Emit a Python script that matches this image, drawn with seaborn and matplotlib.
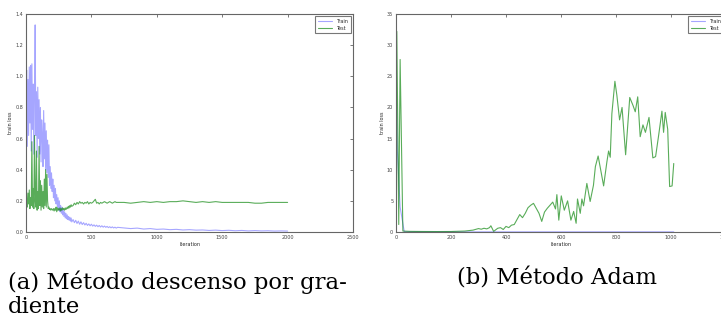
import matplotlib
matplotlib.use('Agg')
import matplotlib.pyplot as plt
import numpy as np
import pandas as pd
import seaborn as sns

# --- gradient descent run (left panel) ---
gd_iter = np.concatenate([np.arange(0, 351, 5), np.arange(360, 701, 10), np.arange(750, 2001, 50)])

gd_train = [
    0.72, 1.04, 0.55, 0.98, 0.62, 1.06, 0.70, 1.07, 0.52, 1.08,
    0.66, 0.95, 0.50, 0.88, 1.33, 0.62, 0.90, 0.48, 0.93, 0.60,
    0.85, 0.50, 0.80, 0.45, 0.72, 0.62, 0.42, 0.78, 0.47, 0.70,
    0.40, 0.65, 0.38, 0.59, 0.35, 0.56, 0.30, 0.42, 0.28, 0.38,
    0.26, 0.34, 0.22, 0.30, 0.20, 0.28, 0.18, 0.24, 0.16, 0.22,
    0.14, 0.20, 0.13, 0.17, 0.12, 0.16, 0.11, 0.14, 0.10, 0.13,
    0.09, 0.12, 0.085, 0.11, 0.08, 0.10, 0.075, 0.095, 0.07, 0.09,
    0.065,
    0.08, 0.06, 0.075, 0.055, 0.07, 0.05, 0.065, 0.048, 0.06, 0.045,
    0.056, 0.042, 0.052, 0.04, 0.05, 0.038, 0.046, 0.036, 0.044, 0.034,
    0.042, 0.032, 0.04, 0.031, 0.038, 0.03, 0.036, 0.028, 0.034, 0.027,
    0.033, 0.026, 0.031, 0.025, 0.03,
    0.026, 0.022, 0.025, 0.019, 0.022, 0.017, 0.019, 0.015, 0.017, 0.013,
    0.015, 0.012, 0.013, 0.010, 0.012, 0.009, 0.011, 0.008, 0.010, 0.007,
    0.009, 0.007, 0.008, 0.006, 0.007, 0.006,
]

gd_test = [
    0.60, 0.17, 0.16, 0.25, 0.18, 0.27, 0.15, 0.22, 0.17, 0.58,
    0.16, 0.28, 0.15, 0.62, 0.20, 0.16, 0.52, 0.14, 0.26, 0.15,
    0.55, 0.17, 0.33, 0.14, 0.30, 0.16, 0.26, 0.15, 0.34, 0.17,
    0.40, 0.16, 0.37, 0.20, 0.15, 0.16, 0.145, 0.15, 0.14, 0.15,
    0.145, 0.14, 0.15, 0.135, 0.15, 0.14, 0.16, 0.13, 0.155, 0.14,
    0.15, 0.14, 0.155, 0.135, 0.15, 0.14, 0.155, 0.145, 0.15, 0.14,
    0.155, 0.145, 0.15, 0.16, 0.15, 0.165, 0.155, 0.17, 0.16, 0.175,
    0.165,
    0.17, 0.185, 0.175, 0.19, 0.18, 0.195, 0.185, 0.19, 0.18, 0.19,
    0.185, 0.195, 0.18, 0.19, 0.185, 0.19, 0.20, 0.21, 0.185, 0.19,
    0.18, 0.19, 0.185, 0.19, 0.195, 0.19, 0.185, 0.19, 0.195, 0.19,
    0.185, 0.19, 0.195, 0.19, 0.19,
    0.19, 0.185, 0.19, 0.195, 0.19, 0.195, 0.19, 0.195, 0.195, 0.20,
    0.195, 0.19, 0.195, 0.19, 0.195, 0.19, 0.19, 0.19, 0.19, 0.19,
    0.185, 0.185, 0.19, 0.19, 0.19, 0.19,
]

# --- Adam run (right panel) ---
adam_train_iter = [0, 5, 15, 30, 100, 200, 400, 600, 800, 1000, 1010]
adam_train = [26.0, 13.0, 4.0, 0.05, 0.03, 0.02, 0.02, 0.02, 0.02, 0.02, 0.02]

adam_test_iter = [
    3, 10, 15, 25, 50, 100, 150, 200, 250, 280,
    300, 310, 320, 330, 340, 345, 355, 370, 380, 390,
    400, 410, 420, 430, 440, 450, 460, 470, 480, 490,
    500, 510, 520, 530, 540, 550, 560, 570, 580, 585,
    592, 601, 612, 624, 636, 646, 655, 660, 670, 676,
    682, 694, 706, 718, 725, 735, 743, 755, 767, 773,
    779, 785, 796, 803, 813, 822, 835, 850, 862, 870,
    879, 888, 898, 907, 920, 934, 944, 955, 967, 973,
    979, 988, 995, 1004, 1010,
]
adam_test = [
    32.2, 1.2, 27.7, 0.15, 0.1, 0.08, 0.07, 0.08, 0.15, 0.3,
    0.55, 0.45, 0.6, 0.5, 0.7, 1.0, 0.1, 0.6, 0.7, 0.4,
    0.9, 0.7, 1.1, 1.2, 2.0, 2.8, 2.3, 3.0, 3.9, 4.3,
    4.6, 3.8, 3.0, 1.7, 3.2, 3.8, 4.3, 4.8, 3.7, 6.0,
    1.9, 5.8, 3.5, 5.0, 1.9, 3.3, 1.4, 5.3, 3.0, 5.3,
    4.2, 7.8, 4.9, 7.5, 10.5, 12.2, 10.3, 7.4, 11.3, 13.0,
    12.0, 19.0, 24.2, 22.0, 18.0, 20.0, 12.4, 21.6, 20.3, 19.3,
    21.7, 15.3, 17.2, 16.0, 18.4, 11.9, 12.1, 15.5, 19.4, 16.0,
    19.2, 16.5, 7.3, 7.4, 11.0,
]

sns.set_style("white")
plt.rcParams['font.family'] = ['DejaVu Sans']

train_col = '#0000ff'
test_col = '#008000'
small = 3.5


def style_axes(ax, xlim, ylim, xstep, ystep, yfmt):
    ax.set_xlim(*xlim)
    ax.set_ylim(*ylim)
    ax.set_xticks(np.arange(xlim[0], xlim[1] + 1e-9, xstep))
    yt = np.arange(ylim[0], ylim[1] + 1e-9, ystep)
    ax.set_yticks(yt)
    ax.set_yticklabels([yfmt.format(v) for v in yt])
    ax.tick_params(direction='in', length=2.5, width=0.5, labelsize=small,
                   top=True, right=True, pad=2, colors='#444444')
    for s in ax.spines.values():
        s.set_color('#666666')
        s.set_linewidth(0.8)
    ax.set_xlabel('iteration', fontsize=small, labelpad=1.5)
    ax.set_ylabel('train loss', fontsize=small, labelpad=1.5)
    leg = ax.legend(loc='upper right', fontsize=small, frameon=True, fancybox=False,
                    handlelength=3.0, borderpad=0.5, labelspacing=0.4)
    leg.get_frame().set_edgecolor('#555555')
    leg.get_frame().set_linewidth(0.8)


fig = plt.figure(figsize=(7.21, 3.2), dpi=100)
ax1 = fig.add_axes([26 / 721, 1 - 232 / 320, 327 / 721, 218 / 320])
ax2 = fig.add_axes([396 / 721, 1 - 232 / 320, 330 / 721, 218 / 320])

gd = pd.DataFrame({'iteration': gd_iter, 'train': gd_train, 'test': gd_test})
sns.lineplot(data=gd, x='iteration', y='train', ax=ax1, color=train_col, alpha=0.35,
             lw=0.8, label='Train')
sns.lineplot(data=gd, x='iteration', y='test', ax=ax1, color=test_col, alpha=0.65,
             lw=0.8, label='Test')
style_axes(ax1, (0, 2500), (0, 1.4), 500, 0.2, '{:.1f}')

adam_tr = pd.DataFrame({'iteration': adam_train_iter, 'loss': adam_train})
adam_te = pd.DataFrame({'iteration': adam_test_iter, 'loss': adam_test})
sns.lineplot(data=adam_tr, x='iteration', y='loss', ax=ax2, color=train_col, alpha=0.35,
             lw=0.8, label='Train')
sns.lineplot(data=adam_te, x='iteration', y='loss', ax=ax2, color=test_col, alpha=0.65,
             lw=0.8, label='Test')
style_axes(ax2, (0, 1200), (0, 35), 200, 5, '{:.0f}')

cap = dict(family='DejaVu Serif', fontsize=16.4, va='baseline', color='black')
fig.text(8 / 721, 1 - 289 / 320, '(a) Método descenso por gra-', ha='left', **cap)
fig.text(8 / 721, 1 - 313 / 320, 'diente', ha='left', **cap)
fig.text(557 / 721, 1 - 285 / 320, '(b) Método Adam', ha='center', **cap)

fig.savefig('out.png', dpi=100)
